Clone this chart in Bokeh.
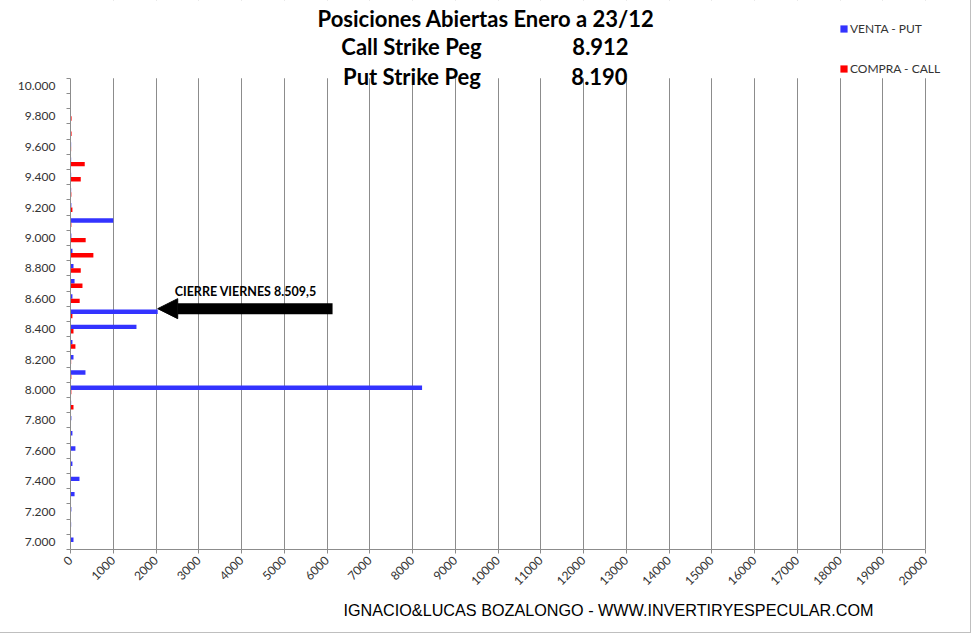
from bokeh.plotting import figure
from bokeh.models import (ColumnDataSource, Range1d, FixedTicker, Legend, LegendItem,
                          Label, Arrow, NormalHead, BoxAnnotation, Title)
from bokeh.transform import dodge
from bokeh.embed import file_html
from bokeh.resources import INLINE

# ---- data ----
strikes = [7000, 7100, 7200, 7300, 7400, 7500, 7600, 7700, 7800, 7900,
           8000, 8100, 8200, 8300, 8400, 8500, 8600, 8700, 8800, 8900,
           9000, 9100, 9200, 9300, 9400, 9500, 9600, 9700, 9800, 9900, 10000]
venta_put = [70, 15, 20, 95, 210, 45, 115, 45, 20, 15,
             8224, 350, 70, 45, 1543, 2040, 45, 95, 70, 45,
             20, 1000, 20, 15, 15, 15, 15, 5, 0, 0, 0]
compra_call = [0, 0, 0, 0, 0, 0, 0, 0, 0, 70,
               20, 20, 15, 115, 70, 45, 215, 280, 240, 535,
               355, 20, 45, 20, 240, 333, 15, 25, 25, 0, 0]

y_tick_values = [7000, 7200, 7400, 7600, 7800, 8000, 8200, 8400, 8600, 8800,
                 9000, 9200, 9400, 9600, 9800, 10000]
y_tick_labels = ["7.000", "7.200", "7.400", "7.600", "7.800", "8.000", "8.200", "8.400",
                 "8.600", "8.800", "9.000", "9.200", "9.400", "9.600", "9.800", "10.000"]
x_tick_values = [0, 1000, 2000, 3000, 4000, 5000, 6000, 7000, 8000, 9000, 10000,
                 11000, 12000, 13000, 14000, 15000, 16000, 17000, 18000, 19000, 20000]

title_text = "Posiciones Abiertas Enero a 23/12"
call_peg_text, call_peg_value = "Call Strike Peg", "8.912"
put_peg_text, put_peg_value = "Put Strike Peg", "8.190"
close_text = "CIERRE VIERNES 8.509,5"
close_value = 8509.5
footer_text = "IGNACIO&LUCAS BOZALONGO - WWW.INVERTIRYESPECULAR.COM"

BLUE = "#3333FF"
RED = "#FF0000"
GRID = "#8C8C8C"
TXT = "#333333"
TITLE_FONT = "Lato"

X_LO, X_HI, X_EDGE = 0, 20000, 21076   # value axis, plus room for the legend
Y_LO, Y_HI = 6950, 10050               # category axis extent
Y_TOP = 10562                          # extra headroom for titles / legend

src = ColumnDataSource(dict(strike=strikes, put=venta_put, call=compra_call))

p = figure(width=971, height=633, output_backend="svg", toolbar_location=None,
           x_range=Range1d(X_LO, X_EDGE), y_range=Range1d(Y_LO, Y_TOP),
           min_border_left=70, min_border_right=0, min_border_top=0, min_border_bottom=84)
p.outline_line_color = None
p.background_fill_color = "white"
p.border_fill_color = "white"
p.styles = {"border-right": "1px solid #BFBFBF", "border-bottom": "1px solid #BFBFBF"}

r_put = p.hbar(y=dodge("strike", 14.5), right="put", left=0, height=29,
               source=src, fill_color=BLUE, line_color=None)
r_call = p.hbar(y=dodge("strike", -14.5), right="call", left=0, height=29,
                source=src, fill_color=RED, line_color=None)

# axes
p.xaxis.bounds = (X_LO, X_HI)
p.xaxis.ticker = FixedTicker(ticks=x_tick_values)
p.xaxis.major_label_orientation = 0.785398
p.xaxis.major_label_text_font = "Lato"
p.xaxis.major_label_text_font_size = "12px"
p.xaxis.major_label_text_color = TXT
p.xaxis.axis_line_color = GRID
p.xaxis.major_tick_line_color = GRID
p.xaxis.major_tick_out = 4
p.xaxis.major_tick_in = 0
p.xaxis.minor_tick_line_color = None

minor = [s - 50 for s in strikes] + [strikes[-1] + 50]
p.yaxis.bounds = (Y_LO, Y_HI)
p.yaxis.ticker = FixedTicker(ticks=y_tick_values, minor_ticks=minor)
p.yaxis.major_label_overrides = {v: l for v, l in zip(y_tick_values, y_tick_labels)}
p.yaxis.major_label_text_font = "Lato"
p.yaxis.major_label_text_font_size = "12px"
p.yaxis.major_label_text_color = TXT
p.yaxis.axis_line_color = GRID
p.yaxis.major_tick_line_color = None
p.yaxis.major_tick_out = 0
p.yaxis.major_tick_in = 0
p.yaxis.minor_tick_line_color = GRID
p.yaxis.minor_tick_out = 4
p.yaxis.minor_tick_in = 0
p.yaxis.major_label_standoff = 11

p.xgrid.grid_line_color = GRID
p.ygrid.grid_line_color = None

# hide grid lines above the category area (title zone)
p.add_layout(BoxAnnotation(bottom=Y_HI, fill_color="white", fill_alpha=1.0,
                           line_alpha=0))

# legend
legend = Legend(items=[LegendItem(label="VENTA - PUT", renderers=[r_put]),
                       LegendItem(label="COMPRA - CALL", renderers=[r_call])],
                location=(769, 471), orientation="vertical",
                glyph_width=9, glyph_height=9, label_standoff=2,
                label_text_font="Lato", label_text_font_size="12px",
                label_text_color=TXT, spacing=20, padding=0, margin=0,
                border_line_color=None, background_fill_alpha=0, label_height=20)
p.add_layout(legend, "center")

# arrow annotation
p.add_layout(Arrow(end=NormalHead(size=20, fill_color="black", line_color="black"),
                   x_start=6130, x_end=2040, y_start=close_value + 25, y_end=close_value + 25,
                   line_width=11, line_color="black"))
p.add_layout(Label(x=2437, y=close_value + 140, text=close_text, text_font=TITLE_FONT,
                   text_font_style="bold", text_font_size="12.5px", text_color="black",
                   text_baseline="middle", text_align="left"))

# titles (screen units relative to the frame's bottom-left)
def lab(x, y, text, size, style="bold", align="center", font=TITLE_FONT):
    p.add_layout(Label(x=x, y=y, x_units="screen", y_units="screen", text=text,
                       text_font=font, text_font_size=size, text_font_style=style,
                       text_align=align, text_baseline="middle", text_color="black"))

lab(415.5, 531, title_text, "22px")
lab(341, 503, call_peg_text, "22px")
lab(530, 503, call_peg_value, "22px")
lab(341.5, 473, put_peg_text, "22px")
lab(529, 473, put_peg_value, "22px")

# footer
p.add_layout(Title(text=footer_text, align="left", offset=273, text_font="Liberation Sans",
                   text_font_size="16.2px", text_font_style="normal", text_color="black",
                   standoff=14), "below")

open("out.html", "w").write(file_html(p, INLINE))
